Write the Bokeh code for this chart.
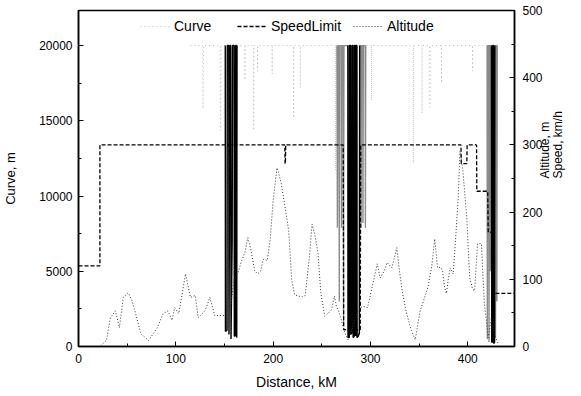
import numpy as np
from bokeh.plotting import figure
from bokeh.models import Range1d, LinearAxis, FixedTicker, Legend, LegendItem
from bokeh.embed import file_html
from bokeh.resources import INLINE

# ---------------- data ----------------
# Curve radius (m) vs distance (km); 20000 = straight track
curve_km = [115, 127.5, 128, 128.5, 145.5, 146, 146.5,
            150.8, 151.0, 152.6, 152.9,
            154.4, 154.6, 155.4, 155.7, 156.4, 156.7, 157.9, 158.3,
            159.9, 160.1, 161.1, 161.4, 162.3, 162.6, 162.9,
            170.8, 171, 171.2, 179.7, 180, 180.3, 183.8, 184, 184.2, 198.8, 199, 199.2,
            220.8, 221, 221.2, 227.8, 228, 228.2, 263.7, 264, 264.3,
            265.5, 266, 266.5, 267.5, 268, 268.5, 270, 270.3, 270.8, 272, 272.3, 272.8,
            276.8, 277.0, 278.2, 278.5, 279.5, 279.7, 280.8, 281.1, 282.1, 282.3, 283.4, 283.7,
            284.6, 284.8, 285.3, 286.0, 286.2, 287.5, 288.6, 288.9,
            290, 290.3, 290.8, 292, 292.3, 292.7, 294.5, 294.8, 295.2,
            300.8, 301, 301.2, 343.7, 344, 344.3, 352.8, 353, 353.2, 360.8, 361, 361.2,
            372.8, 373, 373.2, 404.8, 405, 405.2,
            419.8, 420.1, 420.6, 421.5, 421.8, 422.3, 423.0, 423.3, 423.8,
            424.3, 424.6, 425.4, 425.7, 426.4, 426.7, 427.5, 427.8,
            428.2, 428.5, 429.0, 429.6, 429.9, 430.3, 432]
curve_m = [20000, 20000, 15800, 20000, 20000, 14350, 20000,
           20000, 1000, 1100, 20000,
           20000, 800, 13200, 20000, 20000, 500, 7000, 20000,
           20000, 700, 700, 20000, 20000, 600, 20000,
           20000, 17700, 20000, 20000, 14350, 20000, 20000, 18300, 20000, 20000, 18100, 20000,
           20000, 15200, 20000, 20000, 17200, 20000, 20000, 11700, 20000,
           20000, 7900, 20000, 20000, 3000, 20000, 20000, 7900, 20000, 20000, 1500, 20000,
           20000, 600, 600, 20000, 20000, 800, 900, 20000, 20000, 600, 700, 20000,
           20000, 700, 20000, 20000, 600, 700, 900, 20000,
           20000, 7900, 20000, 20000, 8200, 20000, 20000, 7900, 20000,
           20000, 16350, 20000, 20000, 12160, 20000, 20000, 15500, 20000, 20000, 15900, 20000,
           20000, 17500, 20000, 20000, 18300, 20000,
           20000, 500, 20000, 20000, 300, 20000, 20000, 5000, 20000,
           20000, 300, 300, 20000, 20000, 200, 300, 20000,
           20000, 600, 20000, 20000, 3000, 20000, 20000]

# Speed limit (km/h) vs distance (km)
speed_km = [0, 22, 22, 212, 212.3, 212.6, 212.9, 272, 272.5, 289.5, 290,
            393, 393.3, 399, 399.3, 409, 409.3, 420.5, 421, 425, 425.3, 448]
speed_kmh = [120, 120, 300, 300, 272, 272, 300, 300, 25, 25, 300,
             300, 272, 272, 300, 300, 231, 231, 170, 170, 79, 79]

# Altitude (m) vs distance (km)
alt_km = [22.6, 28.7, 32.8, 38, 42, 46, 51, 55, 58, 64, 72, 81, 87, 92, 96, 99, 103,
          110, 115, 120, 123, 130, 135, 140, 150, 155, 160, 164, 167, 171, 174, 177,
          181, 184, 187, 190, 194, 197, 200, 204, 208, 212, 216, 219, 222, 226, 230,
          233, 237, 240, 243, 246, 249, 253, 257, 260, 263, 265, 268, 271, 274, 277,
          280, 284, 288, 292, 297, 302, 307, 310, 314, 317, 322, 327, 330, 333, 337,
          342, 346, 351, 355, 359, 363, 366, 369, 372, 374, 376, 378, 380, 382, 385,
          387, 390, 392, 395, 399, 402, 405, 407, 409, 410, 414, 417, 421, 424, 427, 431]
alt_m = [1, 9, 43, 53, 28, 73, 80, 68, 53, 19, 9, 28, 49, 53, 39, 58, 49,
         108, 73, 76, 43, 53, 73, 46, 46, 46, 100, 110, 125, 140, 162, 145,
         113, 108, 112, 130, 128, 160, 217, 266, 245, 210, 172, 100, 77, 75, 74,
         76, 130, 182, 165, 140, 80, 45, 50, 55, 75, 60, 50, 34, 19, 10,
         20, 40, 55, 60, 58, 90, 123, 102, 112, 125, 117, 147, 110, 79, 50,
         24, 10, 53, 70, 88, 120, 160, 117, 118, 113, 90, 79, 100, 117, 108,
         150, 217, 291, 261, 191, 102, 85, 83, 130, 153, 153, 64, 13, 40, 20, 5]

x_ticks = [0, 100, 200, 300, 400]
left_ticks = [0, 5000, 10000, 15000, 20000]
right_ticks = [0, 100, 200, 300, 400, 500]

FONT = "Liberation Sans"

# ---------------- figure ----------------
p = figure(width=581, height=396, output_backend="svg", toolbar_location=None,
           x_range=Range1d(0, 448), y_range=Range1d(0, 22330),
           min_border_left=78, min_border_right=66, min_border_top=10, min_border_bottom=50)
p.extra_y_ranges = {"right": Range1d(0, 500)}
p.xgrid.visible = False
p.ygrid.visible = False
p.outline_line_color = "black"
p.outline_line_width = 1.5
p.background_fill_color = "white"
p.border_fill_color = "white"

ckm = np.array(curve_km, dtype=float)
cm = np.array(curve_m, dtype=float)

# whole curve series (faint in the scan)
r_curve = p.line(ckm, cm, line_color="#bdbdbd", line_width=1, line_dash="1 3")

# moderate-radius stretches shown mid grey, tight stretches black
def zone_lists(zones):
    xs, ys = [], []
    for a, b in zones:
        m = (ckm >= a) & (ckm <= b)
        xs.append(list(ckm[m]))
        ys.append(list(cm[m]))
    return xs, ys

gx, gy = zone_lists([(265, 296), (419.5, 431)])
p.multi_line(gx, gy, line_color="#8a8a8a", line_width=1.3)

r_speed = p.line(speed_km, speed_kmh, y_range_name="right", line_color="black",
                 line_width=1.3, line_dash="4 2")

bx, by = zone_lists([(150.5, 163.5), (276.5, 289), (424, 428)])
p.multi_line(bx, by, line_color="black", line_width=1.4)

r_alt = p.line(alt_km, alt_m, y_range_name="right", line_color="#333333",
               line_width=1, line_dash="1 2")

# ---------------- axes ----------------
def style_axis(ax, ticks, minor):
    ax.ticker = FixedTicker(ticks=ticks, minor_ticks=minor)
    ax.major_tick_in = 5
    ax.major_tick_out = 0
    ax.minor_tick_in = 3
    ax.minor_tick_out = 0
    ax.axis_line_width = 1.5
    ax.axis_line_color = "black"
    ax.major_tick_line_color = "black"
    ax.minor_tick_line_color = "black"
    ax.major_label_text_font = FONT
    ax.major_label_text_font_size = "12px"
    ax.major_label_text_color = "black"
    ax.axis_label_text_font = FONT
    ax.axis_label_text_font_style = "normal"
    ax.axis_label_text_color = "black"

style_axis(p.xaxis[0], x_ticks, [50, 150, 250, 350])
p.xaxis[0].axis_label = "Distance, kM"
p.xaxis[0].axis_label_text_font_size = "14px"
p.xaxis[0].major_label_standoff = 7
p.xaxis[0].axis_label_standoff = 8

style_axis(p.yaxis[0], left_ticks, [2500, 7500, 12500, 17500])
p.yaxis[0].axis_label = "Curve, m"
p.yaxis[0].axis_label_text_font_size = "13px"
p.yaxis[0].major_label_standoff = 6
p.yaxis[0].axis_label_standoff = 18

ra = LinearAxis(y_range_name="right")
style_axis(ra, right_ticks, [50, 150, 250, 350, 450])
ra.major_label_standoff = 8
ra.axis_label = "Altitude, m\nSpeed, km/h"
ra.axis_label_text_font_size = "12px"
ra.axis_label_standoff = 6
ra.axis_label_text_line_height = 0.9
if hasattr(ra, "axis_label_orientation"):
    ra.axis_label_orientation = np.pi / 2
p.add_layout(ra, "right")

# ---------------- legend ----------------
for name, rend, xloc in (("Curve", r_curve, 62), ("SpeedLimit", r_speed, 159), ("Altitude", r_alt, 275)):
    lg = Legend(items=[LegendItem(label=name, renderers=[rend])], location=(xloc, 312),
                glyph_width=30, glyph_height=14, label_standoff=4, padding=0, margin=0,
                border_line_alpha=0, background_fill_alpha=0, label_height=16,
                label_text_font=FONT, label_text_font_size="14px", label_text_color="black")
    p.add_layout(lg, "center")

open("out.html", "w").write(file_html(p, INLINE))
